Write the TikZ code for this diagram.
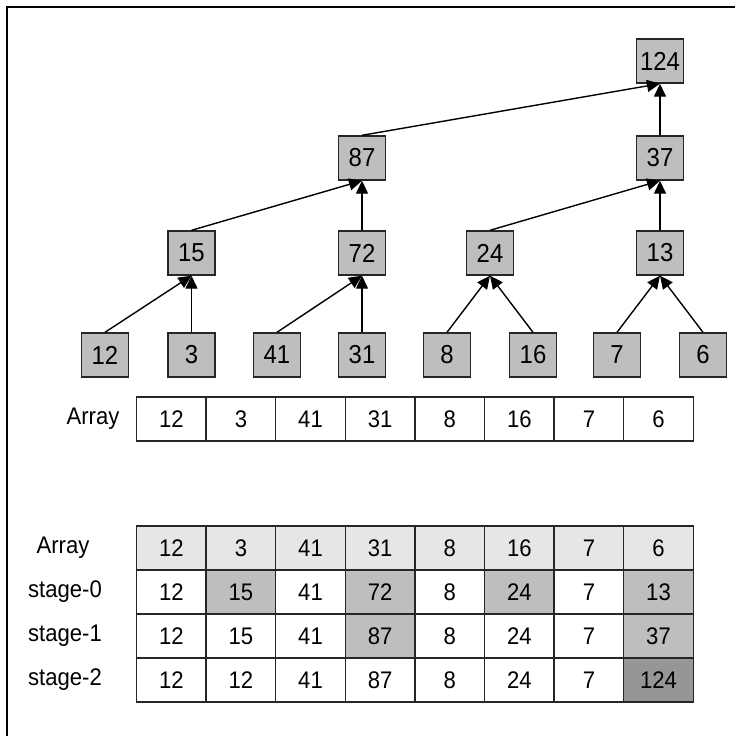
\documentclass[tikz,border=0pt]{standalone}
\usepackage{fontspec}
\setmainfont[FakeStretch=0.92]{Liberation Sans}
\usetikzlibrary{arrows.meta}
\definecolor{boxgray}{RGB}{190,190,193}
\definecolor{lightrow}{RGB}{230,230,232}
\definecolor{darkcell}{RGB}{150,150,150}
\tikzset{
  treebox/.style={draw=black!85, line width=1.4pt, fill=boxgray, minimum width=47pt, minimum height=44pt, inner sep=0pt, font=\fontsize{26}{30}\selectfont},
  cell/.style={draw=black!85, line width=1.4pt, minimum width=69.6pt, minimum height=44pt, inner sep=0pt, font=\fontsize{24}{28}\selectfont},
  lbl/.style={inner sep=0pt, font=\fontsize{24}{28}\selectfont},
  arr/.style={line width=1.4pt, -{Triangle[length=13pt,width=12pt]}}
}
\begin{document}
\begin{tikzpicture}[x=1pt,y=-1pt]
\useasboundingbox (0,0) rectangle (735,736);
\draw[line width=1.5pt] (7,737) -- (7,7) -- (736,7);
% tree
\node[treebox] (n124) at (660,61) {124};
\node[treebox] (n87) at (362,158) {87};
\node[treebox] (n37) at (660,158) {37};
\node[treebox] (n15) at (191.5,253) {15};
\node[treebox] (n72) at (362,253) {72};
\node[treebox] (n24) at (490,253) {24};
\node[treebox] (n13) at (660,253) {13};
\node[treebox] (n12) at (105,355) {12};
\node[treebox] (n3) at (191.5,355) {3};
\node[treebox] (n41) at (277,355) {41};
\node[treebox] (n31) at (362,355) {31};
\node[treebox] (n8) at (447,355) {8};
\node[treebox] (n16) at (533,355) {16};
\node[treebox] (n7) at (617,355) {7};
\node[treebox] (n6) at (703,355) {6};
\draw[arr] (n12.north) -- (n15.south);
\draw[arr] (n3.north) -- (n15.south);
\draw[arr] (n41.north) -- (n72.south);
\draw[arr] (n31.north) -- (n72.south);
\draw[arr] (n8.north) -- (n24.south);
\draw[arr] (n16.north) -- (n24.south);
\draw[arr] (n7.north) -- (n13.south);
\draw[arr] (n6.north) -- (n13.south);
\draw[arr] (n15.north) -- (n87.south);
\draw[arr] (n72.north) -- (n87.south);
\draw[arr] (n24.north) -- (n37.south);
\draw[arr] (n13.north) -- (n37.south);
\draw[arr] (n87.north) -- (n124.south);
\draw[arr] (n37.north) -- (n124.south);
% top array
\node[lbl] (arrlabel) at (93,419) {Array};
\foreach \v [count=\i] in {12,3,41,31,8,16,7,6}
  \node[cell] (a\i) at ({136.5+69.6*(\i-0.5)},419) {\v};
% table
\node[lbl] (lab0) at (63,548) {Array};
\node[lbl] (lab1) at (65,592) {stage-0};
\node[lbl] (lab2) at (65,636) {stage-1};
\node[lbl] (lab3) at (65,680) {stage-2};
\foreach \v [count=\i] in {12,3,41,31,8,16,7,6}
  \node[cell, fill=lightrow] (r0c\i) at ({136.5+69.6*(\i-0.5)},548) {\v};
\foreach \v/\f [count=\i] in {12/white,15/boxgray,41/white,72/boxgray,8/white,24/boxgray,7/white,13/boxgray}
  \node[cell, fill=\f] (r1c\i) at ({136.5+69.6*(\i-0.5)},592) {\v};
\foreach \v/\f [count=\i] in {12/white,15/white,41/white,87/boxgray,8/white,24/white,7/white,37/boxgray}
  \node[cell, fill=\f] (r2c\i) at ({136.5+69.6*(\i-0.5)},636) {\v};
\foreach \v/\f [count=\i] in {12/white,12/white,41/white,87/white,8/white,24/white,7/white,124/darkcell}
  \node[cell, fill=\f] (r3c\i) at ({136.5+69.6*(\i-0.5)},680) {\v};
\end{tikzpicture}
\end{document}
